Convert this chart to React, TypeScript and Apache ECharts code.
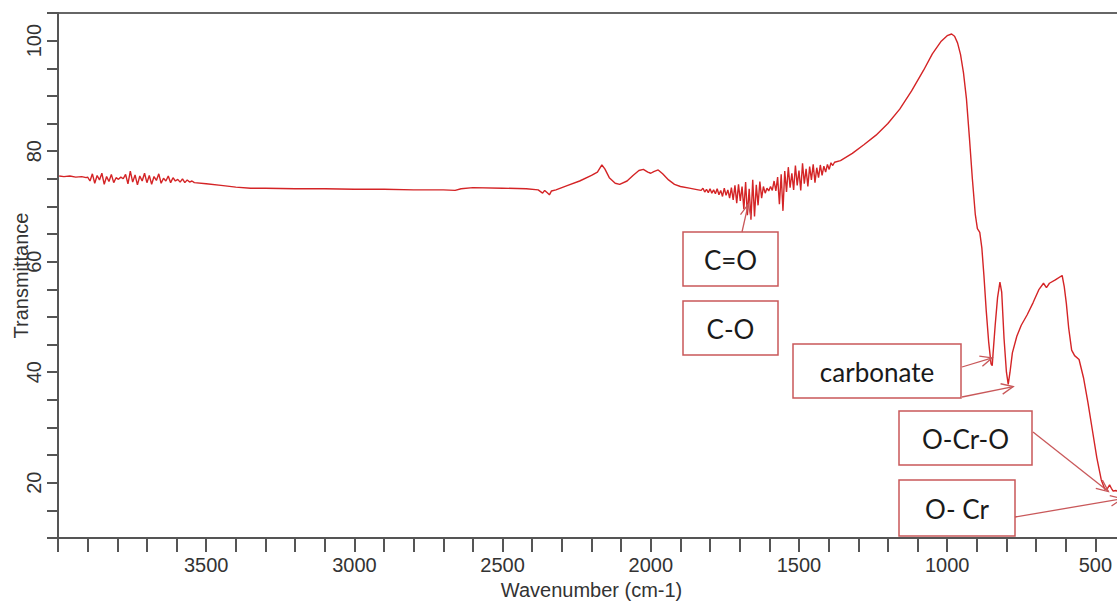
import React, { useEffect, useRef } from 'react';
import * as echarts from 'echarts';

// Wavenumber (cm-1) and transmittance (%)
const WAVENUMBER = [
  3996, 3980, 3960, 3940, 3920, 3905,
  3900, 3892, 3884, 3876, 3868, 3860, 3852, 3844, 3836, 3828, 3820, 3812, 3804, 3796,
  3788, 3780, 3772, 3764, 3756, 3748, 3740, 3732, 3724, 3716, 3708, 3700, 3692, 3684,
  3676, 3668, 3660, 3652, 3644, 3636, 3628, 3620, 3612, 3604, 3596, 3588, 3580, 3572,
  3564, 3556, 3548, 3540,
  3500, 3450, 3400, 3350, 3300, 3200, 3100, 3000, 2900, 2800, 2700, 2660, 2640, 2600,
  2500, 2420, 2380, 2365, 2358, 2350, 2342, 2335, 2320, 2280, 2240, 2200, 2180, 2165,
  2155, 2140, 2120, 2105, 2080, 2060, 2040, 2025, 2010, 2000, 1990, 1975, 1960, 1940,
  1920, 1900, 1870, 1840,
  1830, 1824, 1818, 1812, 1806, 1800, 1794, 1788, 1782, 1776, 1770, 1764, 1758, 1752,
  1746, 1740, 1734, 1728, 1722, 1716, 1710, 1704, 1698, 1692, 1686, 1680, 1674, 1668,
  1662, 1656, 1650, 1644, 1638, 1632, 1626, 1620, 1614, 1608, 1602,
  1596, 1590, 1584, 1578, 1572, 1566, 1560, 1554, 1548, 1542, 1536, 1530, 1524, 1518,
  1512, 1506, 1500, 1494, 1488, 1482, 1476, 1470, 1464, 1458, 1452, 1446, 1440, 1434,
  1428, 1422, 1416, 1410, 1404, 1398, 1392, 1386, 1380,
  1360, 1320, 1280, 1240, 1200, 1160, 1120, 1080, 1050, 1020, 1000, 985, 975, 965,
  955, 945, 935, 925, 915, 905, 898, 890, 883, 876, 868, 860, 852, 848, 845, 838, 830,
  822, 816, 808, 800, 794, 788, 780, 765, 750, 730, 710, 690, 675, 665, 655, 635, 612,
  605, 598, 590, 580, 570, 555, 540, 525, 510, 495, 480, 468, 460, 452, 446, 440, 430,
  420, 400,
];

const TRANSMITTANCE = [
  75.5, 75.4, 75.5, 75.3, 75.4, 75.2,
  75.3, 74.6, 75.9, 74.2, 75.6, 74.8, 76.0, 74.0, 75.4, 74.5, 75.8, 74.3, 75.2, 74.9,
  75.3, 75.0, 75.8, 74.1, 76.4, 74.4, 75.7, 73.9, 75.5, 74.6, 76.0, 74.3, 75.6, 74.0,
  75.4, 74.7, 75.9, 74.2, 75.1, 74.6, 75.5, 74.3, 75.2, 74.6, 74.9, 74.4, 75.0, 74.3,
  74.8, 74.4, 74.6, 74.3,
  74.1, 73.8, 73.5, 73.3, 73.3, 73.2, 73.2, 73.1, 73.1, 73.0, 73.0, 72.9, 73.2, 73.4,
  73.3, 73.2, 73.0, 72.4, 72.9, 72.5, 72.1, 72.8, 73.0, 73.8, 74.6, 75.6, 76.2, 77.5,
  76.8, 75.2, 74.2, 74.0, 74.6, 75.6, 76.5, 76.7, 76.2, 76.0, 76.3, 76.6, 75.9, 74.8,
  74.0, 73.6, 73.3, 73.0,
  72.9, 73.3, 72.6, 73.1, 72.5, 73.2, 72.4, 73.0, 72.3, 73.2, 72.1, 72.9, 71.8, 73.3,
  72.0, 73.0, 71.5, 73.4, 71.2, 73.8, 70.6, 74.0, 71.0, 73.6, 69.5, 74.4, 68.4, 73.2,
  67.6, 74.8, 68.2, 73.9, 70.2, 74.5, 71.5, 73.6, 72.4, 73.3, 72.8,
  73.6, 72.9, 74.6, 72.8, 75.3, 70.4, 75.8, 69.2, 76.4, 72.6, 77.1, 73.4, 76.0, 73.0,
  77.4, 73.8, 76.5, 72.9, 77.8, 74.1, 76.8, 73.6, 77.2, 74.8, 77.6, 74.3, 77.0, 75.2,
  77.5, 75.6, 77.3, 76.2, 77.6, 76.7, 77.9, 77.4, 78.0,
  78.3, 79.6, 81.2, 82.9, 85.0, 87.6, 90.9, 94.6, 97.6, 99.9, 100.9, 101.2, 100.8, 99.6,
  97.5, 94.2, 89.5, 82.5, 75.0, 68.5, 66.0, 65.3, 62.5, 57.5, 51.0, 45.5, 41.5, 41.2, 43.5, 48.5, 53.5,
  56.3, 54.5, 46.0, 40.0, 37.8, 40.0, 43.5, 46.5, 48.5, 50.4, 52.6, 55.0, 56.1, 55.3, 56.1, 56.7, 57.5,
  55.5, 52.5, 48.0, 44.0, 43.0, 42.3, 39.0, 34.5, 29.5, 24.5, 20.5, 18.8, 18.9, 19.6, 19.0, 18.5, 18.6,
  18.2, 18.0,
];

const X_TICK_LABELS = ['3500', '3000', '2500', '2000', '1500', '1000', '500'];
const Y_TICK_LABELS = ['20', '40', '60', '80', '100'];

const ANNOTATION_LABELS = ['C=O', 'C-O', 'carbonate', 'O-Cr-O', 'O- Cr'];
// arrow targets, in data coordinates [wavenumber, transmittance]
const ARROW_TARGETS: [number, number][] = [
  [1671, 70.4],
  [848, 42.6],
  [777, 37.4],
  [456, 18.4],
  [409, 17.1],
];

// layout of the annotation boxes (pixels)
const BOX_LAYOUT = [
  { x: 683, y: 232, w: 95, h: 54 },
  { x: 683, y: 301, w: 95, h: 54 },
  { x: 793, y: 344, w: 168, h: 54 },
  { x: 899, y: 411, w: 133, h: 54 },
  { x: 899, y: 480, w: 116, h: 56 },
];
// arrow start points (pixels) and which target they use
const ARROW_LAYOUT = [
  { from: [742, 232], target: 0 },
  { from: [962, 367], target: 1 },
  { from: [962, 397], target: 2 },
  { from: [1033, 432], target: 3 },
  { from: [1015, 517], target: 4 },
];

const LINE_COLOR = '#d42426';
const ANNOT_COLOR = '#c9585a';
const AXIS_COLOR = '#555';
const TEXT_COLOR = '#333';

export default function App() {
  const ref = useRef<HTMLDivElement>(null);

  useEffect(() => {
    if (!ref.current) return;
    const chart = echarts.init(ref.current, null, { renderer: 'svg' });
    const data = WAVENUMBER.map((w, i) => [w, TRANSMITTANCE[i]]);

    chart.setOption({
      animation: false,
      backgroundColor: '#fff',
      grid: {
        left: 58,
        right: -8,
        top: 13,
        bottom: 65,
        show: true,
        borderColor: '#666',
        borderWidth: 2,
        outerBoundsMode: 'none',
        containLabel: false,
      },
      xAxis: {
        type: 'value',
        inverse: true,
        min: 400,
        max: 4000,
        interval: 100,
        name: 'Wavenumber (cm-1)',
        nameLocation: 'middle',
        nameGap: 42,
        nameMoveOverlap: false,
        nameTextStyle: { fontSize: 20, color: TEXT_COLOR, fontFamily: 'Liberation Sans, Arial, sans-serif' },
        axisLine: { show: true, lineStyle: { color: AXIS_COLOR, width: 2 } },
        axisTick: { show: true, inside: false, length: 14, lineStyle: { color: AXIS_COLOR, width: 2 } },
        splitLine: { show: false },
        axisLabel: {
          margin: 17,
          fontSize: 20,
          color: TEXT_COLOR,
          fontFamily: 'Liberation Sans, Arial, sans-serif',
          formatter: (v: number) => (X_TICK_LABELS.includes(String(v)) ? String(v) : ''),
        },
      },
      yAxis: {
        type: 'value',
        min: 10,
        max: 105,
        interval: 5,
        name: 'Transmittance',
        nameLocation: 'middle',
        nameGap: 27,
        nameMoveOverlap: false,
        nameTextStyle: { fontSize: 20, color: TEXT_COLOR, fontFamily: 'Liberation Sans, Arial, sans-serif' },
        axisLine: { show: true, lineStyle: { color: AXIS_COLOR, width: 2 } },
        axisTick: { show: true, inside: false, length: 11, lineStyle: { color: AXIS_COLOR, width: 2 } },
        splitLine: { show: false },
        axisLabel: {
          rotate: 90,
          margin: 14,
          fontSize: 20,
          color: TEXT_COLOR,
          fontFamily: 'Liberation Sans, Arial, sans-serif',
          formatter: (v: number) => (Y_TICK_LABELS.includes(String(v)) ? String(v) : ''),
        },
      },
      series: [
        {
          type: 'line',
          data,
          showSymbol: false,
          symbol: 'none',
          lineStyle: { color: LINE_COLOR, width: 1.4 },
          z: 2,
        },
      ],
    });

    const elements: any[] = [];
    BOX_LAYOUT.forEach((b, i) => {
      elements.push({
        type: 'rect',
        shape: { x: b.x, y: b.y, width: b.w, height: b.h },
        style: { fill: '#fff', stroke: ANNOT_COLOR, lineWidth: 1.5 },
        z: 10,
      });
      elements.push({
        type: 'text',
        x: b.x + b.w / 2,
        y: b.y + b.h / 2 + 1,
        style: {
          text: ANNOTATION_LABELS[i],
          align: 'center',
          verticalAlign: 'middle',
          fontSize: 26,
          fontFamily: 'Lato, "Open Sans", sans-serif',
          fill: '#1a1a1a',
          shadowBlur: 2,
          shadowColor: 'rgba(0,0,0,0.35)',
          shadowOffsetX: 1,
          shadowOffsetY: 1,
        },
        z: 11,
      });
    });

    ARROW_LAYOUT.forEach((a) => {
      const tip = chart.convertToPixel({ gridIndex: 0 }, ARROW_TARGETS[a.target]) as number[];
      const [x1, y1] = a.from;
      const [x2, y2] = tip;
      const ang = Math.atan2(y2 - y1, x2 - x1);
      const len = 13;
      const spread = 0.42;
      const h1 = [x2 - len * Math.cos(ang - spread), y2 - len * Math.sin(ang - spread)];
      const h2 = [x2 - len * Math.cos(ang + spread), y2 - len * Math.sin(ang + spread)];
      elements.push({
        type: 'line',
        shape: { x1, y1, x2, y2 },
        style: { stroke: ANNOT_COLOR, lineWidth: 1.3 },
        z: 12,
      });
      elements.push({
        type: 'polyline',
        shape: { points: [h1, [x2, y2], h2] },
        style: { stroke: ANNOT_COLOR, lineWidth: 1.3, fill: 'none' },
        z: 12,
      });
    });

    chart.setOption({ graphic: elements });

    return () => chart.dispose();
  }, []);

  return (
    <div
      ref={ref}
      style={{ position: 'fixed', left: 0, top: 0, width: 1117, height: 603, background: '#fff' }}
    />
  );
}
